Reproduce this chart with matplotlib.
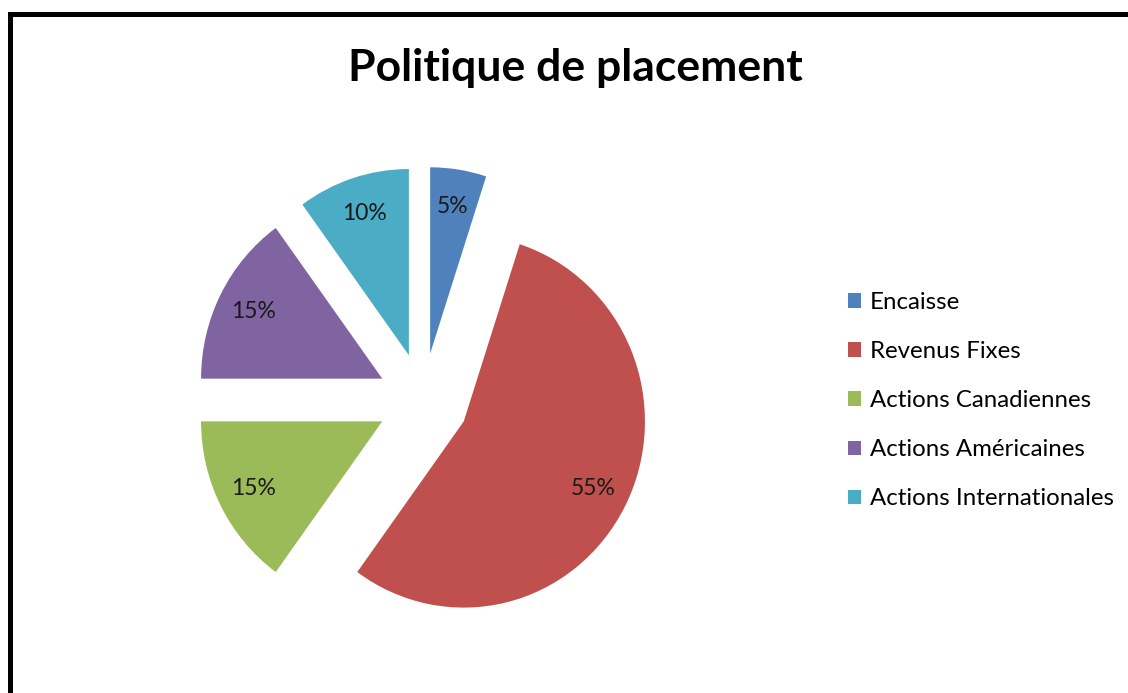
import matplotlib.pyplot as plt
from matplotlib.patches import Rectangle

categories = ["Encaisse", "Revenus Fixes", "Actions Canadiennes",
              "Actions Américaines", "Actions Internationales"]
values = [5, 55, 15, 15, 10]
colors = ["#4F81BD", "#C0504D", "#9BBB59", "#8064A2", "#4BACC6"]

W, H = 1128, 693
fig = plt.figure(figsize=(W / 100, H / 100), dpi=100)
plt.rcParams['font.family'] = ['Lato', 'DejaVu Sans']

# pie axes placed in pixels; the original is slightly stretched vertically
R = 183
half_w = 1.3 * R
half_h = half_w * 1.028
cx, cy = 423, H - 400
ax = fig.add_axes([(cx - half_w) / W, (cy - half_h) / H, 2 * half_w / W, 2 * half_h / H])
wedges, texts, autotexts = ax.pie(
    values, colors=colors, startangle=90, counterclock=False,
    explode=[0.25] * len(values), radius=0.99,
    autopct='%1.0f%%', pctdistance=0.8,
    textprops={'fontsize': 16.5, 'color': '#1a1a1a'})
ax.set_xlim(-1.3, 1.3)
ax.set_ylim(-1.3, 1.3)
ax.set_aspect('auto')
ax.axis('off')

fig.text(575 / W, 1 - 68 / H, "Politique de placement", ha='center', va='center',
         fontsize=32, fontweight='bold', color='black')

fig.legend(wedges, categories, loc='upper left', bbox_to_anchor=(848 / W, 1 - 292 / H),
           frameon=False, fontsize=17.3, handlelength=0.55, handleheight=0.55,
           handletextpad=0.35, labelspacing=1.17, borderaxespad=0, borderpad=0)

# outer chart border (right and bottom edges fall outside the image)
fig.patches.append(Rectangle((9.5 / W, -0.2), 1.2, 1.2 - 14 / H, transform=fig.transFigure,
                             fill=False, edgecolor='black', linewidth=3.6))

fig.savefig("out.png", dpi=100)
